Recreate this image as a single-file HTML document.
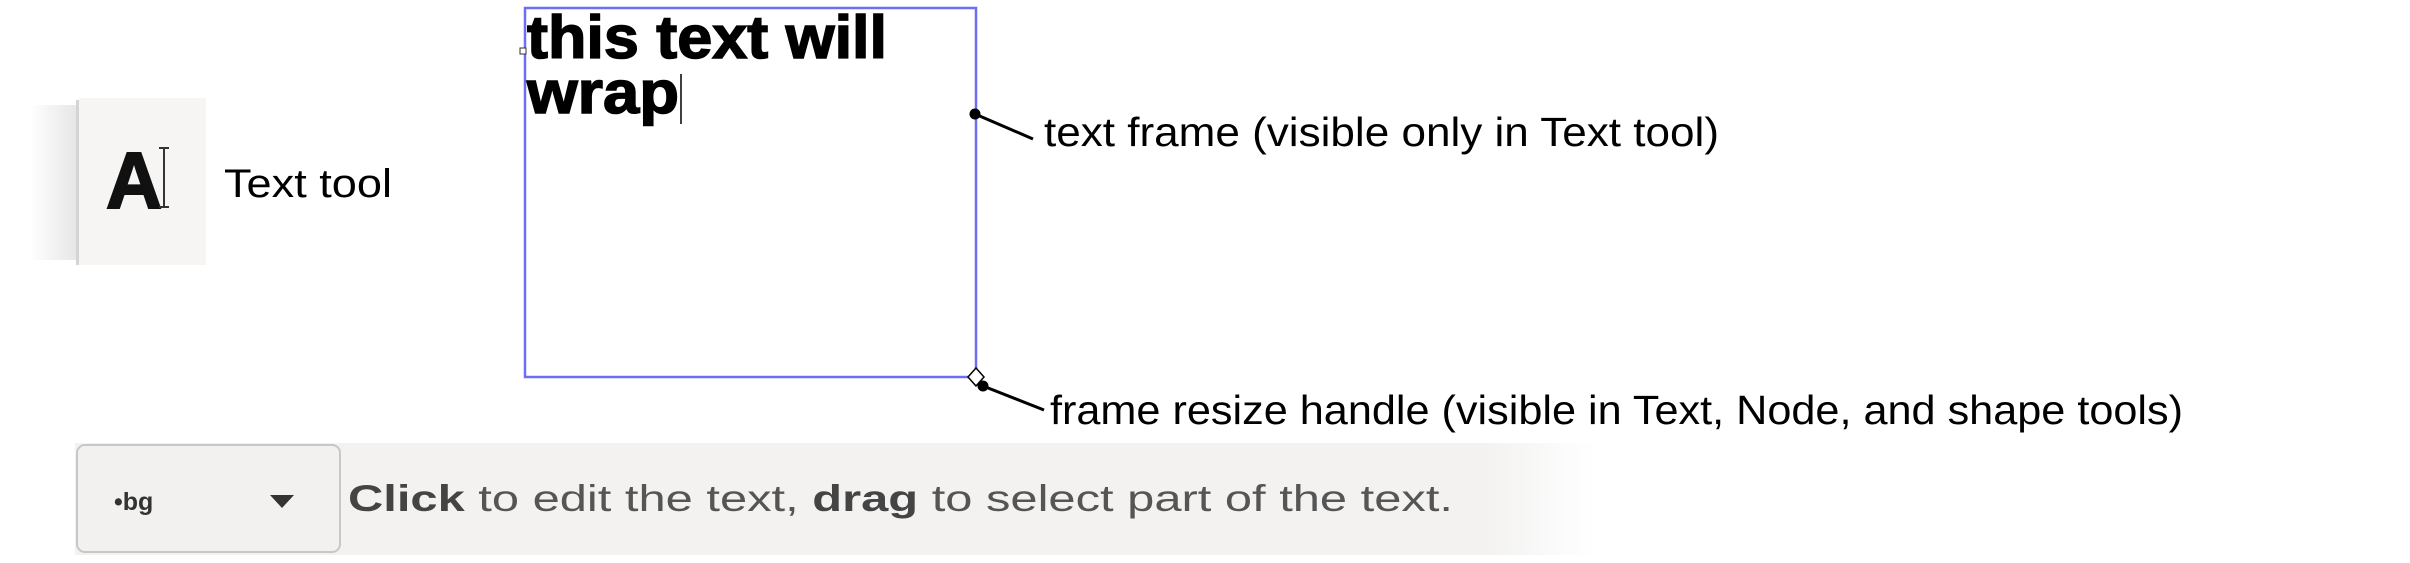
<!DOCTYPE html>
<html><head><meta charset="utf-8"><style>
html,body{margin:0;padding:0;background:#fff;}
body{width:2410px;height:563px;overflow:hidden;position:relative;}
</style></head><body>
<svg width="2410" height="563" viewBox="0 0 2410 563" xmlns="http://www.w3.org/2000/svg" style="position:absolute;left:0;top:0">
<defs>
<linearGradient id="sh" x1="0" x2="1" y1="0" y2="0">
<stop offset="0" stop-color="#fff"/><stop offset="1" stop-color="#e6e6e6"/></linearGradient>
<linearGradient id="fade" x1="0" x2="1" y1="0" y2="0">
<stop offset="0" stop-color="#f3f2f1"/><stop offset="1" stop-color="#fff"/></linearGradient>
</defs>
<rect x="30" y="105" width="47" height="155" fill="url(#sh)"/>
<rect x="76" y="100" width="3" height="165" fill="#d4d4d4"/>
<rect x="79" y="98" width="127" height="167" fill="#f6f5f4"/>
<text x="106" y="208" font-family="Liberation Sans, sans-serif" font-weight="bold" font-size="80" fill="#111" stroke="#111" stroke-width="2" textLength="56" lengthAdjust="spacingAndGlyphs">A</text>
<line x1="164" y1="148" x2="164" y2="207" stroke="#333" stroke-width="2"/>
<line x1="159" y1="148" x2="169" y2="148" stroke="#333" stroke-width="2"/>
<line x1="159" y1="207" x2="169" y2="207" stroke="#333" stroke-width="2"/>
<text x="224" y="197" font-family="Liberation Sans, sans-serif" font-size="40" fill="#000" textLength="168" lengthAdjust="spacingAndGlyphs">Text tool</text>
<rect x="525" y="8" width="451" height="369" fill="none" stroke="#6e6ef2" stroke-width="2.5"/>
<rect x="520" y="48" width="6" height="6" fill="#fff" stroke="#333" stroke-width="1"/>
<text x="527" y="58" font-family="Liberation Sans, sans-serif" font-weight="bold" font-size="60" fill="#000" stroke="#000" stroke-width="1.5" textLength="360" lengthAdjust="spacingAndGlyphs">this text will</text>
<text x="527" y="113" font-family="Liberation Sans, sans-serif" font-weight="bold" font-size="60" fill="#000" stroke="#000" stroke-width="1.5" textLength="152" lengthAdjust="spacingAndGlyphs">wrap</text>
<line x1="681" y1="74" x2="681" y2="124" stroke="#000" stroke-width="1.5"/>
<circle cx="975" cy="114" r="5.5" fill="#000"/>
<line x1="975" y1="114" x2="1033" y2="139" stroke="#000" stroke-width="3"/>
<text x="1044" y="146" font-family="Liberation Sans, sans-serif" font-size="41" fill="#000" textLength="675" lengthAdjust="spacingAndGlyphs">text frame (visible only in Text tool)</text>
<polygon points="976,368 984,377 976,386 968,377" fill="#fff" stroke="#000" stroke-width="1.5"/>
<circle cx="983" cy="386" r="5.5" fill="#000"/>
<line x1="983" y1="386" x2="1044" y2="410" stroke="#000" stroke-width="3"/>
<text x="1050" y="424" font-family="Liberation Sans, sans-serif" font-size="41" fill="#000" textLength="1133" lengthAdjust="spacingAndGlyphs">frame resize handle (visible in Text, Node, and shape tools)</text>
<rect x="75" y="443" width="1410" height="112" fill="#f3f2f1"/>
<rect x="1485" y="443" width="110" height="112" fill="url(#fade)"/>
<rect x="77" y="445" width="263" height="107" rx="8" fill="#f2f1f0" stroke="#c9c7c4" stroke-width="2"/>
<text x="114" y="510" font-family="Liberation Sans, sans-serif" font-weight="bold" font-size="25" fill="#333">•bg</text>
<polygon points="270,495 294,495 282,508" fill="#333"/>
<text x="348" y="511" font-family="Liberation Sans, sans-serif" font-size="37" fill="#555" textLength="1105" lengthAdjust="spacingAndGlyphs"><tspan font-weight="bold" fill="#444">Click</tspan> to edit the text, <tspan font-weight="bold" fill="#444">drag</tspan> to select part of the text.</text>
</svg>
</body></html>
